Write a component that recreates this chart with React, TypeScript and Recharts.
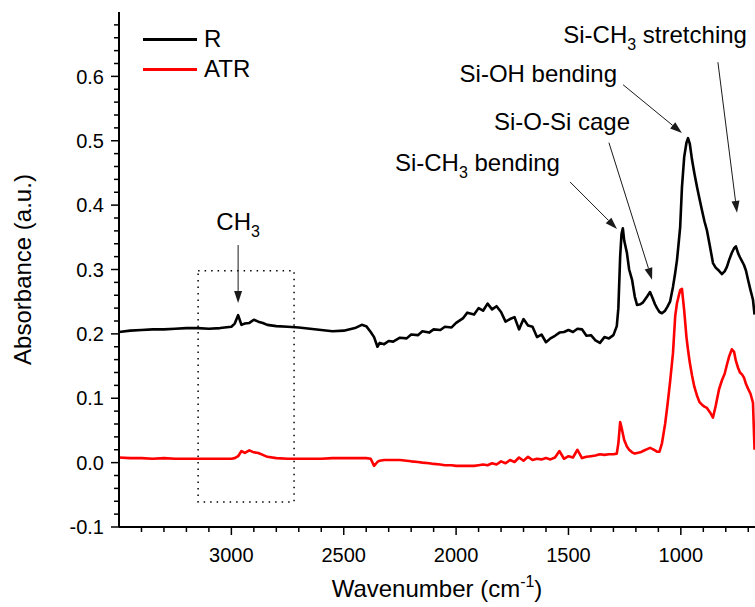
import React from "react";
import {
  LineChart,
  Line,
  XAxis,
  YAxis,
  Legend,
  ReferenceArea,
  ReferenceLine,
  ReferenceDot,
} from "recharts";

// FTIR spectra, wavenumber in cm-1 (descending)
const wavenumbers = [
  3500, 3450, 3400, 3350, 3300, 3250, 3200, 3150, 3100, 3050,
  3000, 2985, 2970, 2955, 2940, 2920, 2900, 2880, 2860, 2840,
  2800, 2750, 2700, 2650, 2600, 2550, 2500, 2450, 2420, 2400,
  2380, 2365, 2350, 2340, 2320, 2300, 2280, 2250, 2220, 2200,
  2170, 2150, 2120, 2100, 2070, 2050, 2020, 2000, 1970, 1950,
  1920, 1900, 1880, 1860, 1840, 1820, 1800, 1780, 1760, 1740,
  1720, 1700, 1680, 1660, 1640, 1620, 1600, 1580, 1560, 1540,
  1520, 1500, 1480, 1460, 1440, 1420, 1400, 1380, 1360, 1340,
  1320, 1300, 1285, 1278, 1270, 1264, 1258, 1252, 1240, 1230,
  1217, 1205, 1195, 1180, 1168, 1150, 1137, 1125, 1115, 1106,
  1095, 1084, 1070, 1060, 1048, 1035, 1025, 1017, 1010, 1003,
  995, 985, 975, 968, 960, 950, 940, 928, 917, 906,
  895, 884, 870, 857, 845, 830, 817, 805, 795, 785,
  773, 763, 755, 745, 737, 728, 719, 710, 701, 690,
  679, 672,
];

const rAbsorbance = [
  0.203, 0.205, 0.206, 0.207, 0.207, 0.208, 0.209, 0.209, 0.208, 0.209,
  0.211, 0.216, 0.229, 0.214, 0.216, 0.217, 0.222, 0.219, 0.217, 0.214,
  0.212, 0.211, 0.210, 0.208, 0.206, 0.204, 0.205, 0.209, 0.214, 0.212,
  0.203, 0.195, 0.180, 0.186, 0.184, 0.189, 0.188, 0.194, 0.193, 0.199,
  0.198, 0.204, 0.202, 0.207, 0.206, 0.211, 0.210, 0.217, 0.224, 0.233,
  0.230, 0.240, 0.236, 0.247, 0.238, 0.243, 0.234, 0.219, 0.223, 0.226,
  0.207, 0.223, 0.213, 0.211, 0.195, 0.199, 0.187, 0.193, 0.197, 0.202,
  0.203, 0.206, 0.203, 0.208, 0.207, 0.197, 0.198, 0.190, 0.186, 0.195,
  0.193, 0.198, 0.212, 0.240, 0.320, 0.355, 0.364, 0.345, 0.326, 0.300,
  0.284, 0.258, 0.245, 0.246, 0.249, 0.258, 0.265, 0.255, 0.246, 0.240,
  0.234, 0.232, 0.236, 0.242, 0.250, 0.273, 0.295, 0.315, 0.340, 0.366,
  0.428, 0.475, 0.497, 0.504, 0.495, 0.470, 0.450, 0.428, 0.410, 0.392,
  0.375, 0.361, 0.335, 0.310, 0.303, 0.298, 0.293, 0.297, 0.304, 0.315,
  0.326, 0.333, 0.336, 0.325, 0.319, 0.313, 0.307, 0.298, 0.284, 0.268,
  0.253, 0.230,
];

const atrAbsorbance = [
  0.008, 0.007, 0.007, 0.006, 0.007, 0.006, 0.006, 0.006, 0.006, 0.006,
  0.006, 0.007, 0.010, 0.018, 0.015, 0.019, 0.016, 0.015, 0.012, 0.009,
  0.007, 0.006, 0.006, 0.006, 0.006, 0.007, 0.007, 0.007, 0.007, 0.007,
  0.006, -0.005, 0.001, 0.003, 0.004, 0.004, 0.004, 0.004, 0.003, 0.002,
  0.001, 0.000, -0.001, -0.002, -0.003, -0.004, -0.004, -0.005, -0.005, -0.005,
  -0.005, -0.004, -0.003, -0.004, -0.001, -0.003, 0.002, -0.001, 0.004, 0.001,
  0.008, 0.003, 0.009, 0.004, 0.006, 0.005, 0.007, 0.005, 0.008, 0.018,
  0.006, 0.010, 0.008, 0.020, 0.007, 0.009, 0.010, 0.011, 0.013, 0.012,
  0.013, 0.013, 0.014, 0.030, 0.063, 0.055, 0.045, 0.035, 0.025, 0.020,
  0.016, 0.014, 0.015, 0.016, 0.018, 0.021, 0.023, 0.021, 0.019, 0.017,
  0.017, 0.030, 0.060, 0.088, 0.125, 0.170, 0.228, 0.248, 0.258, 0.268,
  0.270, 0.236, 0.195, 0.175, 0.155, 0.135, 0.118, 0.104, 0.094, 0.090,
  0.087, 0.085, 0.078, 0.070, 0.088, 0.114, 0.128, 0.138, 0.152, 0.165,
  0.176, 0.172, 0.158, 0.147, 0.140, 0.137, 0.132, 0.122, 0.115, 0.107,
  0.093, 0.020,
];

const seriesNames = ["R", "ATR"];

const xLabelTicks = [3000, 2500, 2000, 1500, 1000];
const xMinorTicks = [
  3400, 3300, 3200, 3100, 2900, 2800, 2700, 2600, 2400, 2300, 2200, 2100,
  1900, 1800, 1700, 1600, 1400, 1300, 1200, 1100, 900, 800, 700,
];
const yLabelTicks = [-0.1, 0, 0.1, 0.2, 0.3, 0.4, 0.5, 0.6];

// peak annotations: text, text anchor point and arrow (start -> tip)
const peakLabels = ["CH_3", "Si-CH_3 bending", "Si-O-Si cage", "Si-OH bending", "Si-CH_3 stretching"];
const labelAt = [[2970, 0.362], [1538, 0.453], [1226, 0.517], [1284, 0.591], [706, 0.652]];
const labelAnchor = ["middle", "end", "end", "end", "end"];
const arrowFrom = [[2970, 0.338], [1493, 0.436], [1320, 0.497], [1257, 0.587], [835, 0.622]];
const arrowTo = [[2970, 0.248], [1284, 0.363], [1128, 0.284], [995, 0.512], [750, 0.388]];

// dotted box around CH3 region
const boxX = [3148, 2721];
const boxY = [-0.061, 0.298];

const FONT = "'Liberation Sans', Arial, sans-serif";

const chartData = wavenumbers.map((w, i) => ({
  w,
  r: rAbsorbance[i],
  atr: atrAbsorbance[i],
}));

// y ticks every 0.02 from -0.1 to 0.68
const yTicks: number[] = [];
for (let i = -5; i <= 34; i++) yTicks.push(Math.round(i * 2) / 100);

const BottomTick = (props: any) => {
  const { x, y, payload } = props;
  const major = xLabelTicks.includes(payload.value);
  return (
    <g>
      <line x1={x} y1={y} x2={x} y2={y + (major ? 8 : 5)} stroke="#000" strokeWidth={1.5} />
      {major && (
        <text x={x} y={y + 35} textAnchor="middle" fontSize={20} fill="#000" fontFamily={FONT}>
          {payload.value}
        </text>
      )}
    </g>
  );
};

const TopTick = (props: any) => {
  const { x, y, payload } = props;
  const major = xLabelTicks.includes(payload.value);
  return <line x1={x} y1={y} x2={x} y2={y + (major ? 6 : 4)} stroke="#000" strokeWidth={1.5} />;
};

const LeftTick = (props: any) => {
  const { x, y, payload } = props;
  const v = payload.value;
  const major = yLabelTicks.some((t) => Math.abs(t - v) < 1e-6);
  return (
    <g>
      <line x1={x} y1={y} x2={x - (major ? 8 : 5)} y2={y} stroke="#000" strokeWidth={1.5} />
      {major && (
        <text x={x - 15} y={y} dy="0.36em" textAnchor="end" fontSize={20} fill="#000" fontFamily={FONT}>
          {v.toFixed(1)}
        </text>
      )}
    </g>
  );
};

// "Si-CH_3 bending" -> Si-CH, subscript 3, " bending"
const richText = (s: string) => {
  const parts = s.split("_");
  if (parts.length === 1) return <tspan>{s}</tspan>;
  return (
    <>
      <tspan>{parts[0]}</tspan>
      <tspan fontSize={16} dy={7}>{parts[1].charAt(0)}</tspan>
      <tspan dy={-7}>{parts[1].slice(1)}</tspan>
    </>
  );
};

const arrowShape = (props: any) => {
  const { x1, y1, x2, y2 } = props;
  const ang = Math.atan2(y2 - y1, x2 - x1);
  const len = 12;
  const half = 4;
  const bx = x2 - len * Math.cos(ang);
  const by = y2 - len * Math.sin(ang);
  const p1 = `${bx + half * Math.sin(ang)},${by - half * Math.cos(ang)}`;
  const p2 = `${bx - half * Math.sin(ang)},${by + half * Math.cos(ang)}`;
  return (
    <g>
      <line x1={x1} y1={y1} x2={bx} y2={by} stroke="#1a1a1a" strokeWidth={1} />
      <polygon points={`${x2},${y2} ${p1} ${p2}`} fill="#1a1a1a" />
    </g>
  );
};

const labelShape = (text: string, anchor: string) => (props: any) => (
  <text
    x={props.cx}
    y={props.cy}
    textAnchor={anchor}
    fontSize={24}
    fill="#000"
    fontFamily={FONT}
    style={{ whiteSpace: "pre" }}
  >
    {richText(text)}
  </text>
);

const renderLegend = (props: any) => {
  const items = [...(props.payload || [])].sort(
    (a: any, b: any) => seriesNames.indexOf(a.value) - seriesNames.indexOf(b.value)
  );
  return (
    <div style={{ fontFamily: FONT }}>
      {items.map((entry: any) => (
        <div key={entry.value} style={{ display: "flex", alignItems: "center", height: 30 }}>
          <span style={{ display: "inline-block", width: 54, height: 3, background: entry.color, marginRight: 7 }} />
          <span style={{ fontSize: 24, lineHeight: "30px", color: "#000" }}>{entry.value}</span>
        </div>
      ))}
    </div>
  );
};

const xTitle = (props: any) => {
  const vb = props.viewBox;
  return (
    <text
      x={vb.x + vb.width / 2}
      y={vb.y + 70}
      textAnchor="middle"
      fontSize={24}
      fill="#000"
      fontFamily={FONT}
      style={{ whiteSpace: "pre" }}
    >
      <tspan>Wavenumber (cm</tspan>
      <tspan fontSize={16} dy={-10}>-1</tspan>
      <tspan dy={10}>)</tspan>
    </text>
  );
};

const yTitle = (props: any) => {
  const vb = props.viewBox;
  const cx = vb.x + 31;
  const cy = vb.y + vb.height / 2;
  return (
    <text
      x={cx}
      y={cy}
      transform={`rotate(-90, ${cx}, ${cy})`}
      textAnchor="middle"
      fontSize={24}
      fill="#000"
      fontFamily={FONT}
    >
      Absorbance (a.u.)
    </text>
  );
};

export default function App() {
  return (
    <div
      style={{
        position: "absolute",
        left: 0,
        top: 0,
        width: 755,
        height: 607,
        overflow: "hidden",
        background: "#fff",
        fontFamily: FONT,
      }}
    >
      <LineChart width={755} height={607} data={chartData} margin={{ top: 12, right: 0, bottom: 0, left: 0 }}>
        <XAxis
          dataKey="w"
          type="number"
          domain={[670, 3500]}
          reversed
          allowDataOverflow
          height={80}
          ticks={[...xMinorTicks, ...xLabelTicks]}
          interval={0}
          tickSize={0}
          tickMargin={0}
          tickLine={false}
          tick={<BottomTick />}
          axisLine={{ stroke: "#000", strokeWidth: 2 }}
          label={xTitle}
        />
        <XAxis
          xAxisId="top"
          orientation="top"
          dataKey="w"
          type="number"
          domain={[670, 3500]}
          reversed
          allowDataOverflow
          height={0}
          ticks={[...xMinorTicks, ...xLabelTicks]}
          interval={0}
          tickSize={0}
          tickMargin={0}
          tickLine={false}
          tick={<TopTick />}
          axisLine={{ stroke: "#000", strokeWidth: 2 }}
        />
        <YAxis
          type="number"
          domain={[-0.1, 0.7]}
          allowDataOverflow
          width={119}
          ticks={yTicks}
          interval={0}
          tickSize={0}
          tickMargin={0}
          tickLine={false}
          tick={<LeftTick />}
          axisLine={{ stroke: "#000", strokeWidth: 2 }}
          label={yTitle}
        />
        <Legend
          verticalAlign="middle"
          align="center"
          layout="vertical"
          wrapperStyle={{ left: 143, top: 24, width: 120, height: 60 }}
          content={renderLegend}
        />
        <ReferenceArea
          x1={boxX[0]}
          x2={boxX[1]}
          y1={boxY[0]}
          y2={boxY[1]}
          fill="none"
          fillOpacity={0}
          stroke="#000"
          strokeWidth={1.5}
          strokeDasharray="1.5 5"
        />
        <Line
          name="R"
          dataKey="r"
          type="linear"
          stroke="#000000"
          strokeWidth={2.6}
          strokeLinejoin="round"
          dot={false}
          isAnimationActive={false}
        />
        <Line
          name="ATR"
          dataKey="atr"
          type="linear"
          stroke="#ff0000"
          strokeWidth={2.6}
          strokeLinejoin="round"
          dot={false}
          isAnimationActive={false}
        />
        {arrowFrom.map((from, i) => (
          <ReferenceLine
            key={`arrow-${i}`}
            segment={[
              { x: from[0], y: from[1] },
              { x: arrowTo[i][0], y: arrowTo[i][1] },
            ]}
            shape={arrowShape}
          />
        ))}
        {peakLabels.map((text, i) => (
          <ReferenceDot
            key={`label-${i}`}
            x={labelAt[i][0]}
            y={labelAt[i][1]}
            r={0}
            shape={labelShape(text, labelAnchor[i])}
          />
        ))}
      </LineChart>
    </div>
  );
}
